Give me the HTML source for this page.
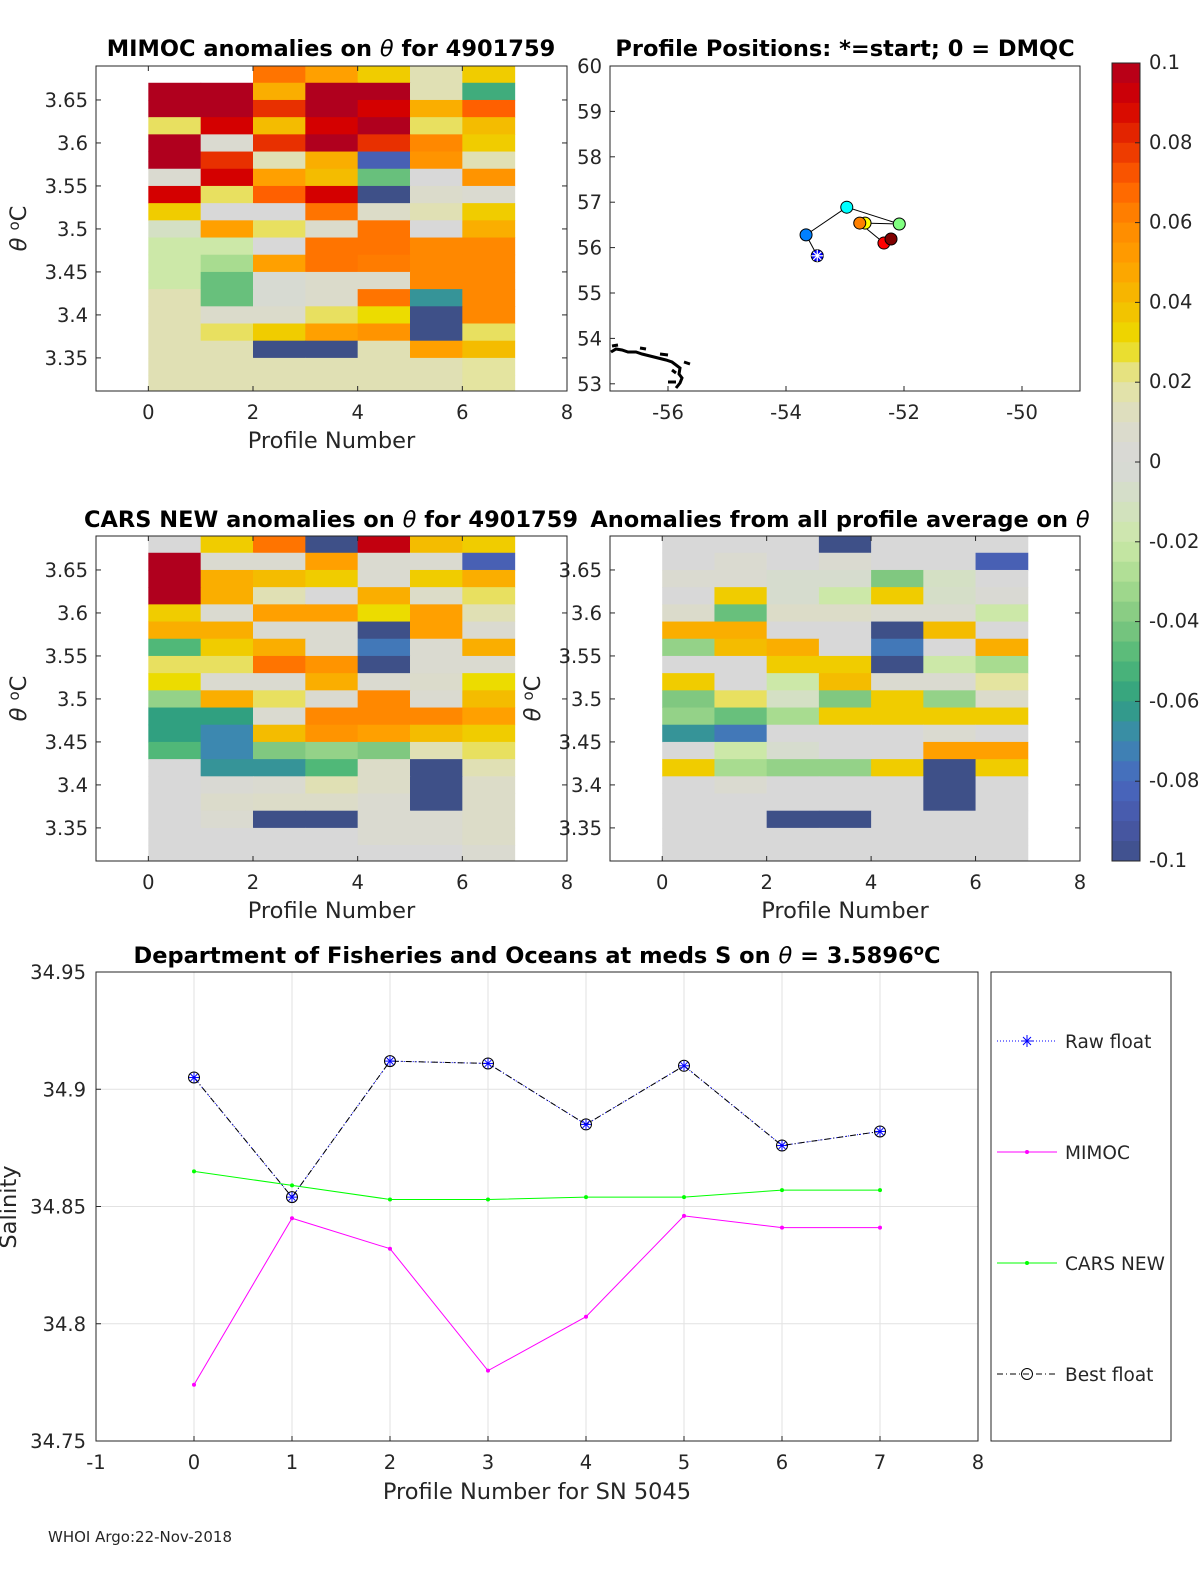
<!DOCTYPE html>
<html><head><meta charset="utf-8"><style>
html,body{margin:0;padding:0;background:#fff;}
svg{display:block;font-family:"DejaVu Sans","Liberation Sans",sans-serif;}
.t{font-size:19.5px;fill:#262626;}
.ttl{font-size:22.5px;font-weight:bold;fill:#000;}
.lab{font-size:22.5px;fill:#262626;}
</style></head><body>
<svg id="fig" width="1200" height="1575" viewBox="0 0 1200 1575" xmlns="http://www.w3.org/2000/svg">
<rect width="1200" height="1575" fill="#fff"/>
<g id="g"></g>
</svg>
<script>
// ---------- data ----------
var profiles = [0,1,2,3,4,5,6,7];
var thetaRows = [3.68,3.66,3.64,3.62,3.60,3.58,3.56,3.54,3.52,3.50,3.48,3.46,3.44,3.42,3.40,3.38,3.36,3.34,3.32];
var mimocGrid = [
 [null,null,0.065,0.05,0.035,0.015,0.035],
 [0.1,0.1,0.045,0.1,0.1,0.015,-0.055],
 [0.1,0.1,0.08,0.1,0.09,0.045,0.07],
 [0.025,0.09,0.04,0.09,0.1,0.025,0.04],
 [0.1,0.005,0.08,0.1,0.08,0.06,0.035],
 [0.1,0.08,0.015,0.045,-0.085,0.055,0.015],
 [0.005,0.09,0.05,0.04,-0.045,0,0.055],
 [0.09,0.025,0.07,0.09,-0.1,0.008,0.005],
 [0.035,0,0,0.065,0.01,0.015,0.035],
 [-0.01,0.05,0.025,0.008,0.065,0,0.045],
 [-0.02,-0.02,0,0.065,0.065,0.06,0.06],
 [-0.02,-0.03,0.05,0.065,0.063,0.06,0.06],
 [-0.02,-0.045,-0.003,0.008,0.008,0.06,0.06],
 [0.015,-0.045,-0.003,0.008,0.065,-0.065,0.06],
 [0.015,0.008,0.008,0.025,0.03,-0.1,0.06],
 [0.015,0.025,0.035,0.05,0.055,-0.1,0.025],
 [0.015,0.015,-0.1,-0.1,0.015,0.05,0.04],
 [0.015,0.015,0.015,0.015,0.015,0.015,0.02],
 [0.015,0.015,0.015,0.015,0.015,0.015,0.02]
];
var carsGrid = [
 [0,0.035,0.065,-0.1,0.095,0.04,0.035],
 [0.1,0.005,0.005,0.05,0.005,0.005,-0.085],
 [0.1,0.045,0.04,0.035,0.005,0.035,0.045],
 [0.1,0.045,0.015,0,0.045,0.01,0.025],
 [0.035,0.005,0.05,0.05,0.03,0.05,0.015],
 [0.045,0.045,0.005,0.005,-0.1,0.05,0.005],
 [-0.05,0.035,0.045,0.005,-0.075,0.005,0.045],
 [0.025,0.025,0.065,0.055,-0.1,0.005,0.005],
 [0.03,0.005,0.005,0.045,0.005,0.008,0.03],
 [-0.035,0.045,0.025,0.005,0.06,0.005,0.04],
 [-0.06,-0.06,0.005,0.06,0.06,0.06,0.05],
 [-0.06,-0.07,0.04,0.055,0.05,0.04,0.035],
 [-0.05,-0.07,-0.04,-0.035,-0.04,0.015,0.025],
 [0,-0.065,-0.065,-0.05,0.01,-0.1,0.015],
 [0,0.003,0.005,0.015,0.01,-0.1,0.01],
 [0,0.008,0.01,0.01,0.005,-0.1,0.01],
 [0,0.005,-0.1,-0.1,0.005,0.005,0.01],
 [0,0,0,0,0.005,0.005,0.01],
 [0,0,0,0,0,0,0.005]
];
var avgGrid = [
 [0,0,0,-0.1,0,0,0],
 [0,0.005,0,0.005,0,0,-0.085],
 [0.005,0.005,-0.005,-0.005,-0.04,-0.01,0],
 [0,0.035,-0.005,-0.02,0.035,-0.008,0.003],
 [0.008,-0.045,0.01,0.01,0.005,0.005,-0.02],
 [0.045,0.045,0,0,-0.1,0.04,0],
 [-0.035,0.04,0.045,0,-0.075,0,0.045],
 [0,0,0.035,0.035,-0.1,-0.02,-0.03],
 [0.035,0,-0.02,0.04,0.005,0.005,0.02],
 [-0.04,0.025,-0.01,-0.04,0.035,-0.035,0.008],
 [-0.035,-0.045,-0.03,0.035,0.035,0.035,0.035],
 [-0.065,-0.075,0,0,0,0.005,0],
 [0,-0.02,-0.005,0,0,0.05,0.05],
 [0.035,-0.03,-0.035,-0.035,0.035,-0.1,0.035],
 [0,0.005,0,0,0,-0.1,0],
 [0,0,0,0,0,-0.1,0],
 [0,0,-0.1,-0.1,0,0,0],
 [0,0,0,0,0,0,0],
 [0,0,0,0,0,0,0]
];
var mapLon = [-53.47,-53.66,-52.97,-52.08,-52.66,-52.75,-52.34,-52.22];
var mapLat = [55.82,56.28,56.89,56.52,56.54,56.54,56.10,56.19];
var mapColors = ["#0000ff","#0080ff","#00ffff","#80ff80","#ffff00","#ff8000","#ff0000","#800000"];
var rawFloat = [34.905,34.854,34.912,34.911,34.885,34.910,34.876,34.882];
var mimocSal = [34.774,34.845,34.832,34.780,34.803,34.846,34.841,34.841];
var carsSal = [34.865,34.859,34.853,34.853,34.854,34.854,34.857,34.857];
var heatXTicks = [0,2,4,6,8];
var thetaTicks = [3.35,3.4,3.45,3.5,3.55,3.6,3.65];
var lonTicks = [-56,-54,-52,-50];
var latTicks = [53,54,55,56,57,58,59,60];
var cbTicks = [-0.1,-0.08,-0.06,-0.04,-0.02,0,0.02,0.04,0.06,0.08,0.1];
var salXTicks = [-1,0,1,2,3,4,5,6,7,8];
var salYTicks = [34.75,34.8,34.85,34.9,34.95];

// ---------- helpers ----------
var NS="http://www.w3.org/2000/svg";
var G=document.getElementById('g');
function el(tag,attrs,parent){var e=document.createElementNS(NS,tag);for(var k in attrs)e.setAttribute(k,attrs[k]);(parent||G).appendChild(e);return e;}
function txt(x,y,s,cls,anchor,extra){var e=el('text',Object.assign({x:x,y:y,'class':cls,'text-anchor':anchor||'middle'},extra||{}));e.textContent=s;return e;}
function richTitle(x,y,parts,name){var e=el('text',{x:x,y:y,'class':'ttl','text-anchor':'middle'});
  
  parts.forEach(function(p){var s=el('tspan',p[1]||{},e);s.textContent=p[0];});return e;}
var IT={'font-style':'italic','font-weight':'normal'};
var stops=[[-0.1,[62,80,136]],[-0.09,[72,88,168]],[-0.08,[72,104,192]],[-0.07,[60,136,176]],[-0.06,[48,160,128]],[-0.05,[80,184,120]],[-0.04,[128,200,128]],[-0.03,[168,220,144]],[-0.02,[204,232,168]],[-0.01,[212,224,196]],[0,[216,216,216]],[0.01,[220,220,200]],[0.02,[228,228,160]],[0.025,[232,224,96]],[0.03,[236,220,0]],[0.04,[244,188,0]],[0.05,[255,160,0]],[0.06,[255,136,0]],[0.07,[255,96,0]],[0.08,[232,48,0]],[0.09,[212,0,0]],[0.1,[176,0,30]]];
function cmap(v){v=Math.max(-0.1,Math.min(0.1,v));for(var i=0;i<stops.length-1;i++){var a=stops[i],b=stops[i+1];if(v<=b[0]){var t=(v-a[0])/(b[0]-a[0]);var c=a[1].map(function(q,j){return Math.round(q+(b[1][j]-q)*t);});return 'rgb('+c.join(',')+')';}}return 'rgb(176,0,30)';}

function heatPanel(x0,y0,w,h,grid,name,clipId){
  var sx=function(p){return x0+(p+1)*w/9;};
  var sy=function(t){return y0+(3.6895-t)/(3.6895-3.3115)*h;};
  var cp=el('clipPath',{id:clipId});el('rect',{x:x0,y:y0,width:w,height:h},cp);
  var grp=el('g',{'clip-path':'url(#'+clipId+')'});
  
  
  for(var r=0;r<thetaRows.length;r++){for(var c=0;c<7;c++){var v=grid[r][c];if(v===null)continue;
    var yt=sy(thetaRows[r]+0.01),yb=sy(thetaRows[r]-0.01);
    var rc=el('rect',{x:sx(profiles[c]),y:yt,width:sx(profiles[c+1])-sx(profiles[c])+0.5,height:yb-yt+0.5,fill:cmap(v)},grp);
    
    
  }}
  var box=el('rect',{x:x0,y:y0,width:w,height:h,fill:'none',stroke:'#262626','stroke-width':1});
  
  
  heatXTicks.forEach(function(t){var X=sx(t);el('line',{x1:X,y1:y0+h,x2:X,y2:y0+h-5,stroke:'#262626'});el('line',{x1:X,y1:y0,x2:X,y2:y0+5,stroke:'#262626'});
    var tl=txt(X,y0+h+28,String(t),'t');});
  thetaTicks.forEach(function(t){var Y=sy(t);el('line',{x1:x0,y1:Y,x2:x0+5,y2:Y,stroke:'#262626'});el('line',{x1:x0+w,y1:Y,x2:x0+w-5,y2:Y,stroke:'#262626'});
    var tl=txt(x0-8,Y+7,String(t),'t','end');});
  var xl=txt(x0+w/2,y0+h+57,'Profile Number','lab');
  
  var yl=el('text',{x:0,y:0,'class':'lab','text-anchor':'middle',transform:'translate('+(x0-70)+','+(y0+h/2)+') rotate(-90)'});
  var a=el('tspan',{'font-style':'italic'},yl);a.textContent='θ ';
  var b=el('tspan',{dy:-7,style:'font-size:15px'},yl);b.textContent='o';
  var c2=el('tspan',{dy:7},yl);c2.textContent='C';
  
}

// ---------- heat panels ----------
heatPanel(96,66,471,325,mimocGrid,'mimoc-heatmap','c1');
heatPanel(96,536,471,325,carsGrid,'cars-heatmap','c2');
heatPanel(610,536,470,325,avgGrid,'average-heatmap','c3');
richTitle(331,56,[['MIMOC anomalies on '],['θ',IT],['  for 4901759']],'mimoc-title');
richTitle(331,527,[['CARS NEW anomalies on '],['θ',IT],[' for 4901759']],'cars-title');
richTitle(840,527,[['Anomalies from all profile average on '],['θ',IT]],'average-title');

// ---------- map ----------
(function(){
  var x0=610,y0=66,w=470,h=325;
  var lx=function(l){return 668+(l+56)*59;};
  var ly=function(a){return 66+(60-a)*45.4;};
  var box=el('rect',{x:x0,y:y0,width:w,height:h,fill:'#fff',stroke:'#262626'});
  
  var coast=el('path',{d:'M611,352 L616,349 L622,350 L628,352 L636,352 L642,354 L650,356 L658,358 L666,360 L672,362 L676,365 L680,368 L679,374 L682,378 L680,383 L676,388 M668,382 L676,382 M612,346 L618,345 M640,348 L646,349 M660,354 L668,355 M684,362 L690,364 M672,370 L676,373',fill:'none',stroke:'#000','stroke-width':3});
  
  lonTicks.forEach(function(t){var X=lx(t);el('line',{x1:X,y1:y0+h,x2:X,y2:y0+h-5,stroke:'#262626'});var tl=txt(X,y0+h+28,String(t),'t');});
  latTicks.forEach(function(t){var Y=ly(t);el('line',{x1:x0,y1:Y,x2:x0+5,y2:Y,stroke:'#262626'});var tl=txt(x0-8,Y+7,String(t),'t','end');});
  var pts=mapLon.map(function(l,i){return lx(l)+','+ly(mapLat[i]);}).join(' ');
  var tr=el('polyline',{points:pts,fill:'none',stroke:'#000','stroke-width':1});
  
  for(var i=1;i<mapLon.length;i++){var c=el('circle',{cx:lx(mapLon[i]),cy:ly(mapLat[i]),r:6,fill:mapColors[i],stroke:'#000'});
    }
  var sx=lx(mapLon[0]),sy=ly(mapLat[0]);
  var st=el('g',{});
  el('circle',{cx:sx,cy:sy,r:6,fill:'#0000ff',stroke:'#000'},st);
  [[0,-6,0,6],[-6,0,6,0],[-4,-4,4,4],[-4,4,4,-4]].forEach(function(d){el('line',{x1:sx+d[0],y1:sy+d[1],x2:sx+d[2],y2:sy+d[3],stroke:'#fff','stroke-width':1.2},st);});
  var tt=txt(845,56,'Profile Positions: *=start; 0 = DMQC','ttl');
})();

// ---------- colorbar ----------
(function(){
  var x0=1112,y0=63,w=28,h=798;
  var cy=function(v){return y0+(0.1-v)/0.2*h;};
  var n=40;
  for(var i=0;i<n;i++){var v1=0.1-i*0.2/n;var r=el('rect',{x:x0,y:cy(v1),width:w,height:h/n+0.5,fill:cmap(v1-0.1/n)});
    }
  var b=el('rect',{x:x0,y:y0,width:w,height:h,fill:'none',stroke:'#262626'});
  
  cbTicks.forEach(function(t){var Y=cy(t);el('line',{x1:x0+w-5,y1:Y,x2:x0+w,y2:Y,stroke:'#262626'});
    var s=(Math.abs(t)<1e-9)?'0':String(Math.round(t*100)/100);
    var tl=txt(x0+w+9,Y+6,s,'t','start');});
})();

// ---------- salinity chart ----------
(function(){
  var x0=96,y0=972,w=882,h=469;
  var sx=function(p){return x0+(p+1)*w/9;};
  var sy=function(s){return y0+(34.95-s)/0.2*h;};
  var ax=el('rect',{x:x0,y:y0,width:w,height:h,fill:'#fff',stroke:'#262626'});
  
  salXTicks.forEach(function(t){var X=sx(t);el('line',{x1:X,y1:y0,x2:X,y2:y0+h,stroke:'#e2e2e2'});el('line',{x1:X,y1:y0+h,x2:X,y2:y0+h-5,stroke:'#262626'});
    var tl=txt(X,y0+h+28,String(t),'t');});
  salYTicks.forEach(function(t){var Y=sy(t);el('line',{x1:x0,y1:Y,x2:x0+w,y2:Y,stroke:'#e2e2e2'});el('line',{x1:x0,y1:Y,x2:x0+5,y2:Y,stroke:'#262626'});
    var tl=txt(x0-10,Y+7,t.toFixed(2).replace(/0$/,''),'t','end');});
  el('rect',{x:x0,y:y0,width:w,height:h,fill:'none',stroke:'#262626'});
  function line(vals,col,dash,name){var p=vals.map(function(v,i){return sx(profiles[i])+','+sy(v);}).join(' ');
    var l=el('polyline',{points:p,fill:'none',stroke:col,'stroke-width':1,'stroke-dasharray':dash||'none'});
    return p;}
  line(carsSal,'#00ff00',null,'cars-line');
  carsSal.forEach(function(v,i){var d=el('circle',{cx:sx(profiles[i]),cy:sy(v),r:2,fill:'#00ff00'});});
  line(mimocSal,'#ff00ff',null,'mimoc-line');
  mimocSal.forEach(function(v,i){var d=el('circle',{cx:sx(profiles[i]),cy:sy(v),r:2,fill:'#ff00ff'});});
  line(rawFloat,'#0000ff','1,2','raw-float-line');
  line(rawFloat,'#000','6,3,1,3','best-float-line');
  rawFloat.forEach(function(v,i){var X=sx(profiles[i]),Y=sy(v);
    var c=el('circle',{cx:X,cy:Y,r:5.5,fill:'none',stroke:'#000'});
    var s=el('g',{});
    [[0,-5,0,5],[-5,0,5,0],[-3.5,-3.5,3.5,3.5],[-3.5,3.5,3.5,-3.5]].forEach(function(d){el('line',{x1:X+d[0],y1:Y+d[1],x2:X+d[2],y2:Y+d[3],stroke:'#0000ff'},s);});});
  var tt=richTitle(537,963,[['Department of Fisheries and Oceans at meds S on '],['θ',IT],[' = 3.5896']],'salinity-title');
  var ts=el('tspan',{dy:-8,style:'font-size:15px'},tt);ts.textContent='o';
  var ts2=el('tspan',{dy:8},tt);ts2.textContent='C';
  var xl=txt(537,1499,'Profile Number for SN 5045','lab');
  var yl=txt(0,0,'Salinity','lab','middle',{transform:'translate(16,1207) rotate(-90)'});
  var lg=el('g',{});
  el('rect',{x:991,y:972,width:180,height:469,fill:'#fff',stroke:'#262626'},lg);
  var items=[['Raw float','#0000ff','1,2',1041],['MIMOC','#ff00ff',null,1152],['CARS NEW','#00ff00',null,1263],['Best float','#000','6,3,1,3',1374]];
  items.forEach(function(it,k){var e=el('g',{},lg);
    el('line',{x1:997,y1:it[3],x2:1057,y2:it[3],stroke:it[1],'stroke-dasharray':it[2]||'none'},e);
    if(k===0){[[0,-6,0,6],[-6,0,6,0],[-4,-4,4,4],[-4,4,4,-4]].forEach(function(d){el('line',{x1:1027+d[0],y1:it[3]+d[1],x2:1027+d[2],y2:it[3]+d[3],stroke:'#0000ff'},e);});}
    else if(k===3){el('circle',{cx:1027,cy:it[3],r:5.5,fill:'none',stroke:'#000'},e);}
    else{el('circle',{cx:1027,cy:it[3],r:2,fill:it[1]},e);}
    var t=txt(1065,it[3]+7,it[0],'t','start',{style:'font-size:18.5px'});});
  var ft=txt(48,1542,'WHOI Argo:22-Nov-2018','t','start',{style:'font-size:15px'});
})();
</script>
</body></html>
